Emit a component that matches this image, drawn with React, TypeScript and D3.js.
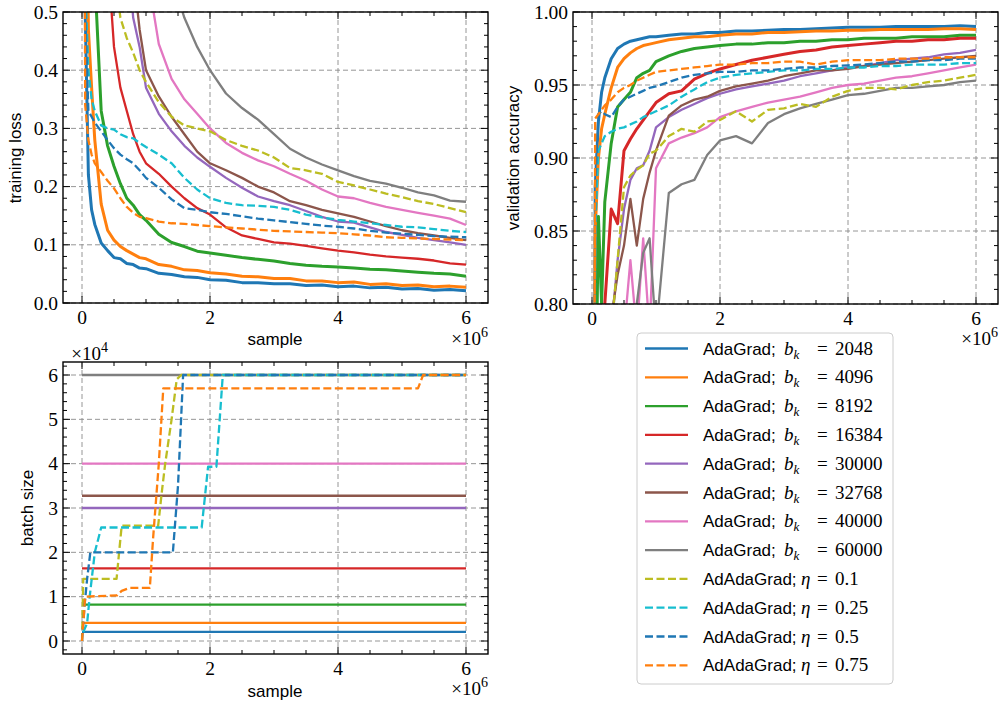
import React from 'react';
import * as d3 from 'd3';

// samples (x 10^6) shared by the training-loss and validation-accuracy curves
const samples = [0, 0.05, 0.1, 0.15, 0.2, 0.3, 0.4, 0.5, 0.6, 0.7, 0.8, 0.9, 1.0, 1.2, 1.4, 1.6, 1.8, 2.0,
  2.25, 2.5, 2.75, 3.0, 3.25, 3.5, 3.75, 4.0, 4.25, 4.5, 4.75, 5.0, 5.25, 5.5, 5.75, 6.0];

const methods = ['AdaGrad;', 'AdaGrad;', 'AdaGrad;', 'AdaGrad;', 'AdaGrad;', 'AdaGrad;', 'AdaGrad;', 'AdaGrad;',
  'AdAdaGrad;', 'AdAdaGrad;', 'AdAdaGrad;', 'AdAdaGrad;'];
const paramNames = ['b', 'b', 'b', 'b', 'b', 'b', 'b', 'b', 'η', 'η', 'η', 'η'];
const paramValues = ['2048', '4096', '8192', '16384', '30000', '32768', '40000', '60000', '0.1', '0.25', '0.5', '0.75'];
const colors = ['#1f77b4', '#ff7f0e', '#2ca02c', '#d62728', '#9467bd', '#8c564b', '#e377c2', '#7f7f7f',
  '#bcbd22', '#17becf', '#1f77b4', '#ff7f0e'];
const dashed = [false, false, false, false, false, false, false, false, true, true, true, true];

// training loss
const loss2048 = [2.30, 0.50, 0.22, 0.16, 0.135, 0.103, 0.090, 0.078, 0.076, 0.068, 0.066, 0.060, 0.059, 0.051, 0.049, 0.045, 0.044, 0.040, 0.039, 0.035, 0.035, 0.033, 0.033, 0.030, 0.031, 0.028, 0.029, 0.026, 0.027, 0.024, 0.025, 0.022, 0.023, 0.021];
const loss4096 = [2.30, 0.90, 0.47, 0.37, 0.28, 0.17, 0.125, 0.108, 0.097, 0.090, 0.084, 0.078, 0.076, 0.066, 0.063, 0.057, 0.056, 0.052, 0.050, 0.046, 0.045, 0.042, 0.042, 0.038, 0.038, 0.035, 0.036, 0.032, 0.033, 0.030, 0.031, 0.028, 0.029, 0.027];
const loss8192 = [2.30, 1.60, 1.10, 0.80, 0.56, 0.33, 0.27, 0.235, 0.205, 0.180, 0.168, 0.152, 0.142, 0.118, 0.104, 0.097, 0.089, 0.086, 0.082, 0.078, 0.075, 0.072, 0.068, 0.065, 0.063, 0.062, 0.060, 0.058, 0.057, 0.055, 0.053, 0.051, 0.050, 0.046];
const loss16384 = [2.30, 2.00, 1.70, 1.40, 1.20, 0.90, 0.60, 0.44, 0.37, 0.33, 0.29, 0.26, 0.24, 0.222, 0.200, 0.180, 0.163, 0.152, 0.130, 0.116, 0.110, 0.104, 0.102, 0.098, 0.094, 0.090, 0.087, 0.083, 0.080, 0.078, 0.076, 0.073, 0.068, 0.066];
const loss30000 = [2.30, 2.20, 2.10, 2.00, 1.90, 1.60, 1.30, 1.00, 0.80, 0.62, 0.49, 0.44, 0.37, 0.325, 0.295, 0.270, 0.250, 0.234, 0.215, 0.198, 0.183, 0.175, 0.168, 0.158, 0.148, 0.140, 0.138, 0.130, 0.122, 0.117, 0.112, 0.108, 0.104, 0.100];
const loss32768 = [2.30, 2.25, 2.20, 2.10, 2.00, 1.80, 1.50, 1.20, 0.95, 0.75, 0.57, 0.47, 0.40, 0.355, 0.320, 0.290, 0.260, 0.240, 0.228, 0.215, 0.200, 0.190, 0.175, 0.168, 0.160, 0.154, 0.148, 0.140, 0.132, 0.125, 0.120, 0.116, 0.112, 0.108];
const loss40000 = [2.30, 2.28, 2.25, 2.20, 2.15, 2.00, 1.80, 1.60, 1.40, 1.20, 1.00, 0.80, 0.58, 0.445, 0.385, 0.350, 0.325, 0.300, 0.275, 0.258, 0.245, 0.235, 0.222, 0.210, 0.195, 0.183, 0.180, 0.172, 0.165, 0.160, 0.155, 0.150, 0.145, 0.134];
const loss60000 = [2.30, 2.29, 2.28, 2.27, 2.26, 2.22, 2.15, 2.05, 1.90, 1.70, 1.50, 1.30, 1.10, 0.80, 0.56, 0.49, 0.44, 0.40, 0.36, 0.335, 0.315, 0.290, 0.265, 0.250, 0.238, 0.228, 0.218, 0.210, 0.205, 0.198, 0.190, 0.185, 0.176, 0.174];
const lossEta01 = [2.30, 2.20, 2.00, 1.80, 1.60, 1.20, 0.90, 0.58, 0.49, 0.455, 0.43, 0.40, 0.38, 0.345, 0.320, 0.305, 0.300, 0.295, 0.280, 0.270, 0.262, 0.250, 0.232, 0.228, 0.222, 0.208, 0.202, 0.195, 0.188, 0.182, 0.175, 0.170, 0.163, 0.156];
const lossEta025 = [2.30, 0.55, 0.40, 0.35, 0.33, 0.305, 0.300, 0.298, 0.290, 0.285, 0.283, 0.275, 0.268, 0.255, 0.240, 0.215, 0.195, 0.180, 0.172, 0.168, 0.167, 0.165, 0.160, 0.152, 0.147, 0.143, 0.140, 0.137, 0.134, 0.131, 0.130, 0.127, 0.124, 0.122];
const lossEta05 = [2.30, 0.50, 0.33, 0.32, 0.31, 0.295, 0.28, 0.266, 0.255, 0.247, 0.240, 0.228, 0.215, 0.198, 0.178, 0.163, 0.160, 0.156, 0.153, 0.149, 0.145, 0.142, 0.139, 0.136, 0.133, 0.131, 0.128, 0.124, 0.121, 0.119, 0.117, 0.115, 0.114, 0.113];
const lossEta075 = [2.30, 0.34, 0.28, 0.255, 0.24, 0.225, 0.21, 0.197, 0.180, 0.165, 0.155, 0.148, 0.146, 0.140, 0.137, 0.136, 0.134, 0.132, 0.130, 0.128, 0.126, 0.124, 0.123, 0.122, 0.121, 0.120, 0.118, 0.116, 0.113, 0.112, 0.111, 0.110, 0.109, 0.108];

// validation accuracy
const acc2048 = [0.10, 0.88, 0.925, 0.945, 0.955, 0.968, 0.975, 0.978, 0.980, 0.981, 0.982, 0.983, 0.983, 0.984, 0.985, 0.985, 0.986, 0.986, 0.987, 0.987, 0.9875, 0.988, 0.988, 0.9885, 0.989, 0.9895, 0.9895, 0.9895, 0.990, 0.990, 0.990, 0.990, 0.9905, 0.990];
const acc4096 = [0.10, 0.85, 0.90, 0.92, 0.93, 0.948, 0.962, 0.968, 0.972, 0.975, 0.977, 0.978, 0.979, 0.981, 0.982, 0.983, 0.983, 0.984, 0.985, 0.985, 0.986, 0.986, 0.9865, 0.987, 0.987, 0.9875, 0.9875, 0.988, 0.988, 0.988, 0.988, 0.9885, 0.9885, 0.988];
const acc8192 = [0.10, 0.70, 0.86, 0.80, 0.87, 0.91, 0.935, 0.94, 0.945, 0.955, 0.958, 0.96, 0.966, 0.97, 0.973, 0.975, 0.976, 0.977, 0.978, 0.978, 0.979, 0.979, 0.98, 0.98, 0.981, 0.981, 0.982, 0.982, 0.982, 0.983, 0.983, 0.983, 0.984, 0.984];
const acc16384 = [0.10, 0.30, 0.60, 0.75, 0.80, 0.865, 0.855, 0.905, 0.913, 0.92, 0.926, 0.932, 0.938, 0.944, 0.946, 0.954, 0.958, 0.961, 0.964, 0.967, 0.969, 0.971, 0.973, 0.974, 0.976, 0.977, 0.978, 0.979, 0.98, 0.98, 0.981, 0.981, 0.982, 0.982];
const acc30000 = [0.10, 0.20, 0.30, 0.45, 0.60, 0.78, 0.83, 0.865, 0.885, 0.893, 0.895, 0.905, 0.921, 0.928, 0.933, 0.937, 0.941, 0.944, 0.947, 0.949, 0.951, 0.953, 0.956, 0.958, 0.96, 0.962, 0.963, 0.965, 0.967, 0.968, 0.969, 0.971, 0.972, 0.974];
const acc32768 = [0.10, 0.15, 0.25, 0.35, 0.50, 0.79, 0.82, 0.84, 0.872, 0.84, 0.872, 0.89, 0.905, 0.929, 0.936, 0.94, 0.942, 0.946, 0.949, 0.951, 0.953, 0.956, 0.958, 0.96, 0.96, 0.961, 0.963, 0.964, 0.965, 0.966, 0.967, 0.968, 0.969, 0.970];
const acc40000 = [0.10, 0.12, 0.15, 0.20, 0.30, 0.50, 0.70, 0.78, 0.83, 0.78, 0.845, 0.78, 0.893, 0.91, 0.914, 0.917, 0.921, 0.928, 0.932, 0.935, 0.938, 0.94, 0.942, 0.945, 0.948, 0.95, 0.951, 0.953, 0.955, 0.956, 0.958, 0.96, 0.962, 0.964];
const acc60000 = [0.10, 0.11, 0.12, 0.13, 0.15, 0.25, 0.40, 0.50, 0.70, 0.80, 0.835, 0.845, 0.78, 0.876, 0.882, 0.885, 0.902, 0.912, 0.915, 0.91, 0.924, 0.93, 0.934, 0.937, 0.94, 0.943, 0.944, 0.946, 0.948, 0.948, 0.949, 0.95, 0.952, 0.953];
const accEta01 = [0.10, 0.20, 0.40, 0.55, 0.65, 0.78, 0.83, 0.88, 0.888, 0.892, 0.895, 0.903, 0.905, 0.915, 0.92, 0.918, 0.925, 0.926, 0.932, 0.925, 0.933, 0.934, 0.937, 0.935, 0.942, 0.946, 0.948, 0.948, 0.947, 0.95, 0.952, 0.953, 0.955, 0.957];
const accEta025 = [0.10, 0.85, 0.905, 0.91, 0.915, 0.918, 0.92, 0.921, 0.923, 0.925, 0.928, 0.93, 0.932, 0.936, 0.942, 0.947, 0.952, 0.955, 0.957, 0.958, 0.959, 0.96, 0.96, 0.961, 0.961, 0.962, 0.962, 0.963, 0.963, 0.964, 0.964, 0.964, 0.965, 0.965];
const accEta05 = [0.10, 0.88, 0.93, 0.932, 0.93, 0.928, 0.935, 0.94, 0.942, 0.944, 0.946, 0.948, 0.949, 0.952, 0.955, 0.957, 0.958, 0.959, 0.959, 0.96, 0.96, 0.961, 0.962, 0.962, 0.963, 0.9635, 0.964, 0.965, 0.966, 0.966, 0.967, 0.967, 0.968, 0.968];
const accEta075 = [0.10, 0.927, 0.93, 0.933, 0.936, 0.94, 0.945, 0.948, 0.95, 0.953, 0.955, 0.957, 0.959, 0.96, 0.961, 0.962, 0.963, 0.964, 0.964, 0.965, 0.965, 0.966, 0.966, 0.964, 0.966, 0.967, 0.967, 0.967, 0.968, 0.968, 0.968, 0.969, 0.969, 0.969];

const lossSeries = [loss2048, loss4096, loss8192, loss16384, loss30000, loss32768, loss40000, loss60000,
  lossEta01, lossEta025, lossEta05, lossEta075];
const accSeries = [acc2048, acc4096, acc8192, acc16384, acc30000, acc32768, acc40000, acc60000,
  accEta01, accEta025, accEta05, accEta075];

// batch size (x 10^4); fixed ones are constant, adaptive ones are step-like
const fixedBatch = [2048, 4096, 8192, 16384, 30000, 32768, 40000, 60000];
const batchEta01X = [0, 0.02, 0.54, 0.62, 1.19, 1.25, 1.3, 1.4, 1.48, 1.55, 6.0];
const batchEta01Y = [0, 1.4, 1.4, 2.6, 2.6, 3.4, 4.0, 5.0, 5.9, 6.0, 6.0];
const batchEta025X = [0.02, 0.08, 0.12, 0.2, 0.3, 1.87, 1.97, 2.1, 2.2, 6.0];
const batchEta025Y = [0.2, 0.4, 1.0, 2.0, 2.56, 2.56, 3.93, 3.93, 6.0, 6.0];
const batchEta05X = [0, 0.04, 0.08, 0.13, 1.42, 1.5, 1.58, 6.0];
const batchEta05Y = [0, 0.8, 1.4, 2.0, 2.0, 3.5, 6.0, 6.0];
const batchEta075X = [0, 0.05, 0.55, 0.62, 0.75, 1.06, 1.11, 1.2, 1.27, 5.25, 5.33, 6.0];
const batchEta075Y = [0, 1.0, 1.03, 1.13, 1.2, 1.2, 2.3, 4.0, 5.7, 5.7, 6.0, 6.0];

const SERIF = '"Liberation Serif", "DejaVu Serif", serif';
const SANS = '"Liberation Sans", "DejaVu Sans", sans-serif';
const DASH = '8,3.5';
const LW = 2.3;

type Box = { l: number; r: number; t: number; b: number };

function Frame({ id, box, x, y, xMajor, xMinor, yMajor, yMinor, yFmt, children }: any) {
  const bx: Box = box;
  const grid = '#8a8a8a';
  return (
    <g>
      <defs>
        <clipPath id={id}>
          <rect x={bx.l} y={bx.t} width={bx.r - bx.l} height={bx.b - bx.t} />
        </clipPath>
      </defs>
      {xMajor.map((v: number) => (
        <line key={'gx' + v} x1={x(v)} x2={x(v)} y1={bx.t} y2={bx.b} stroke={grid} strokeWidth={0.9} strokeDasharray="5,3" />
      ))}
      {yMajor.map((v: number) => (
        <line key={'gy' + v} x1={bx.l} x2={bx.r} y1={y(v)} y2={y(v)} stroke={grid} strokeWidth={0.9} strokeDasharray="5,3" />
      ))}
      <g clipPath={`url(#${id})`}>{children}</g>
      {xMajor.map((v: number) => (
        <g key={'tx' + v}>
          <line x1={x(v)} x2={x(v)} y1={bx.b} y2={bx.b - 7} stroke="#000" />
          <line x1={x(v)} x2={x(v)} y1={bx.t} y2={bx.t + 7} stroke="#000" />
          <text x={x(v)} y={bx.b + 21} textAnchor="middle" fontFamily={SERIF} fontSize={19.5}>{v}</text>
        </g>
      ))}
      {xMinor.map((v: number) => (
        <g key={'mx' + v}>
          <line x1={x(v)} x2={x(v)} y1={bx.b} y2={bx.b - 4} stroke="#000" />
          <line x1={x(v)} x2={x(v)} y1={bx.t} y2={bx.t + 4} stroke="#000" />
        </g>
      ))}
      {yMajor.map((v: number) => (
        <g key={'ty' + v}>
          <line x1={bx.l} x2={bx.l + 7} y1={y(v)} y2={y(v)} stroke="#000" />
          <line x1={bx.r} x2={bx.r - 7} y1={y(v)} y2={y(v)} stroke="#000" />
          <text x={bx.l - 5} y={y(v) + 6.5} textAnchor="end" fontFamily={SERIF} fontSize={19.5}>{yFmt(v)}</text>
        </g>
      ))}
      {yMinor.map((v: number) => (
        <g key={'my' + v}>
          <line x1={bx.l} x2={bx.l + 4} y1={y(v)} y2={y(v)} stroke="#000" />
          <line x1={bx.r} x2={bx.r - 4} y1={y(v)} y2={y(v)} stroke="#000" />
        </g>
      ))}
      <rect x={bx.l} y={bx.t} width={bx.r - bx.l} height={bx.b - bx.t} fill="none" stroke="#000" strokeWidth={1.4} />
    </g>
  );
}

function Offset({ x, y, exp }: { x: number; y: number; exp: string }) {
  return (
    <text x={x} y={y} fontFamily={SERIF} fontSize={19} textAnchor="end">
      ×10<tspan fontSize={14} dy={-8}>{exp}</tspan>
    </text>
  );
}

function range(a: number, b: number, step: number) {
  const out: number[] = [];
  for (let i = 0; a + i * step <= b + 1e-9; i++) out.push(+(a + i * step).toFixed(4));
  return out;
}

export default function App() {
  // panel 1: training loss
  const b1: Box = { l: 63, r: 488, t: 12, b: 303 };
  const x1 = d3.scaleLinear().domain([0, 6]).range([82, 466]);
  const y1 = d3.scaleLinear().domain([0, 0.5]).range([303, 12]);
  // panel 2: validation accuracy
  const b2: Box = { l: 573, r: 998, t: 12, b: 304 };
  const x2 = d3.scaleLinear().domain([0, 6]).range([592, 976]);
  const y2 = d3.scaleLinear().domain([0.8, 1.0]).range([304, 12]);
  // panel 3: batch size
  const b3: Box = { l: 63, r: 488, t: 362, b: 654 };
  const x3 = d3.scaleLinear().domain([0, 6]).range([82, 466]);
  const y3 = d3.scaleLinear().domain([0, 6]).range([641, 375]);

  const xMajor = [0, 2, 4, 6];
  const xMinor = range(0.5, 6, 0.5).filter((v) => v % 2 !== 0);

  const lossLine = d3.line<number>().x((_, i) => x1(samples[i])).y((d) => y1(d));
  const accLine = d3.line<number>().x((_, i) => x2(samples[i])).y((d) => y2(d));
  const stepLine = (xs: number[]) => d3.line<number>().x((_, i) => x3(xs[i])).y((d) => y3(d));

  const adaptive = [
    { xs: batchEta01X, ys: batchEta01Y, c: 8 },
    { xs: batchEta025X, ys: batchEta025Y, c: 9 },
    { xs: batchEta05X, ys: batchEta05Y, c: 10 },
    { xs: batchEta075X, ys: batchEta075Y, c: 11 },
  ];

  const legendX = 637, legendY = 333, rowH = 28.8;

  return (
    <svg width={1000} height={707} style={{ position: 'absolute', left: 0, top: 0, background: '#fff' }}>
      <Frame id="c1" box={b1} x={x1} y={y1} xMajor={xMajor} xMinor={xMinor}
        yMajor={range(0, 0.5, 0.1)} yMinor={range(0, 0.5, 0.02).filter((v) => Math.round(v * 100) % 10 !== 0)}
        yFmt={(v: number) => v.toFixed(1)}>
        {lossSeries.map((s, i) => (
          <path key={i} d={lossLine(s) || ''} fill="none" stroke={colors[i]} strokeWidth={i < 3 ? 3 : LW}
            strokeDasharray={dashed[i] ? DASH : undefined} strokeLinejoin="round" />
        ))}
      </Frame>
      <text transform={`translate(21,158) rotate(-90)`} textAnchor="middle" fontFamily={SANS} fontSize={17}>training loss</text>
      <text x={275} y={345} textAnchor="middle" fontFamily={SANS} fontSize={17}>sample</text>
      <Offset x={488} y={345} exp="6" />

      <Frame id="c2" box={b2} x={x2} y={y2} xMajor={xMajor} xMinor={xMinor}
        yMajor={range(0.8, 1.0, 0.05)} yMinor={range(0.8, 1.0, 0.01).filter((v) => Math.round(v * 100) % 5 !== 0)}
        yFmt={(v: number) => v.toFixed(2)}>
        {accSeries.map((s, i) => (
          <path key={i} d={accLine(s) || ''} fill="none" stroke={colors[i]} strokeWidth={i < 4 ? 3 : LW}
            strokeDasharray={dashed[i] ? DASH : undefined} strokeLinejoin="round" />
        ))}
      </Frame>
      <text transform={`translate(519,158) rotate(-90)`} textAnchor="middle" fontFamily={SANS} fontSize={17}>validation accuracy</text>
      <Offset x={998} y={345} exp="6" />

      <Frame id="c3" box={b3} x={x3} y={y3} xMajor={xMajor} xMinor={xMinor}
        yMajor={range(0, 6, 1)} yMinor={range(-0.2, 6.2, 0.2).filter((v) => Math.abs(v - Math.round(v)) > 1e-6)}
        yFmt={(v: number) => String(v)}>
        {fixedBatch.map((bsz, i) => (
          <path key={i} d={d3.line<number>().x((d) => x3(d)).y(() => y3(bsz / 1e4))([0, 6]) || ''}
            fill="none" stroke={colors[i]} strokeWidth={LW} />
        ))}
        {adaptive.map((a, i) => (
          <path key={'a' + i} d={stepLine(a.xs)(a.ys) || ''} fill="none" stroke={colors[a.c]} strokeWidth={LW}
            strokeDasharray={DASH} strokeLinejoin="round" />
        ))}
      </Frame>
      <text transform={`translate(33,508) rotate(-90)`} textAnchor="middle" fontFamily={SANS} fontSize={17}>batch size</text>
      <text x={275} y={697} textAnchor="middle" fontFamily={SANS} fontSize={17}>sample</text>
      <Offset x={488} y={695} exp="6" />
      <Offset x={108} y={360} exp="4" />

      <g>
        <rect x={legendX} y={legendY} width={256} height={351} rx={4} fill="#fff" fillOpacity={0.8} stroke="#cccccc" />
        {methods.map((m, i) => {
          const cy = legendY + 15.5 + i * rowH;
          const isB = paramNames[i] === 'b';
          return (
            <g key={i}>
              <line x1={legendX + 8} x2={legendX + 51} y1={cy} y2={cy} stroke={colors[i]} strokeWidth={LW}
                strokeDasharray={dashed[i] ? DASH : undefined} />
              <text x={703} y={cy + 6} fontSize={17} fontFamily={SANS}>{m}</text>
              <text y={cy + 6} fontFamily={SERIF} fontSize={19}>
                <tspan x={isB ? 784 : 801} fontStyle="italic">{paramNames[i]}</tspan>
                {isB ? <tspan fontStyle="italic" fontSize={13} dy={4}>k</tspan> : null}
                <tspan x={817} dy={isB ? -4 : 0}>=</tspan>
                <tspan x={835}>{paramValues[i]}</tspan>
              </text>
            </g>
          );
        })}
      </g>
    </svg>
  );
}
